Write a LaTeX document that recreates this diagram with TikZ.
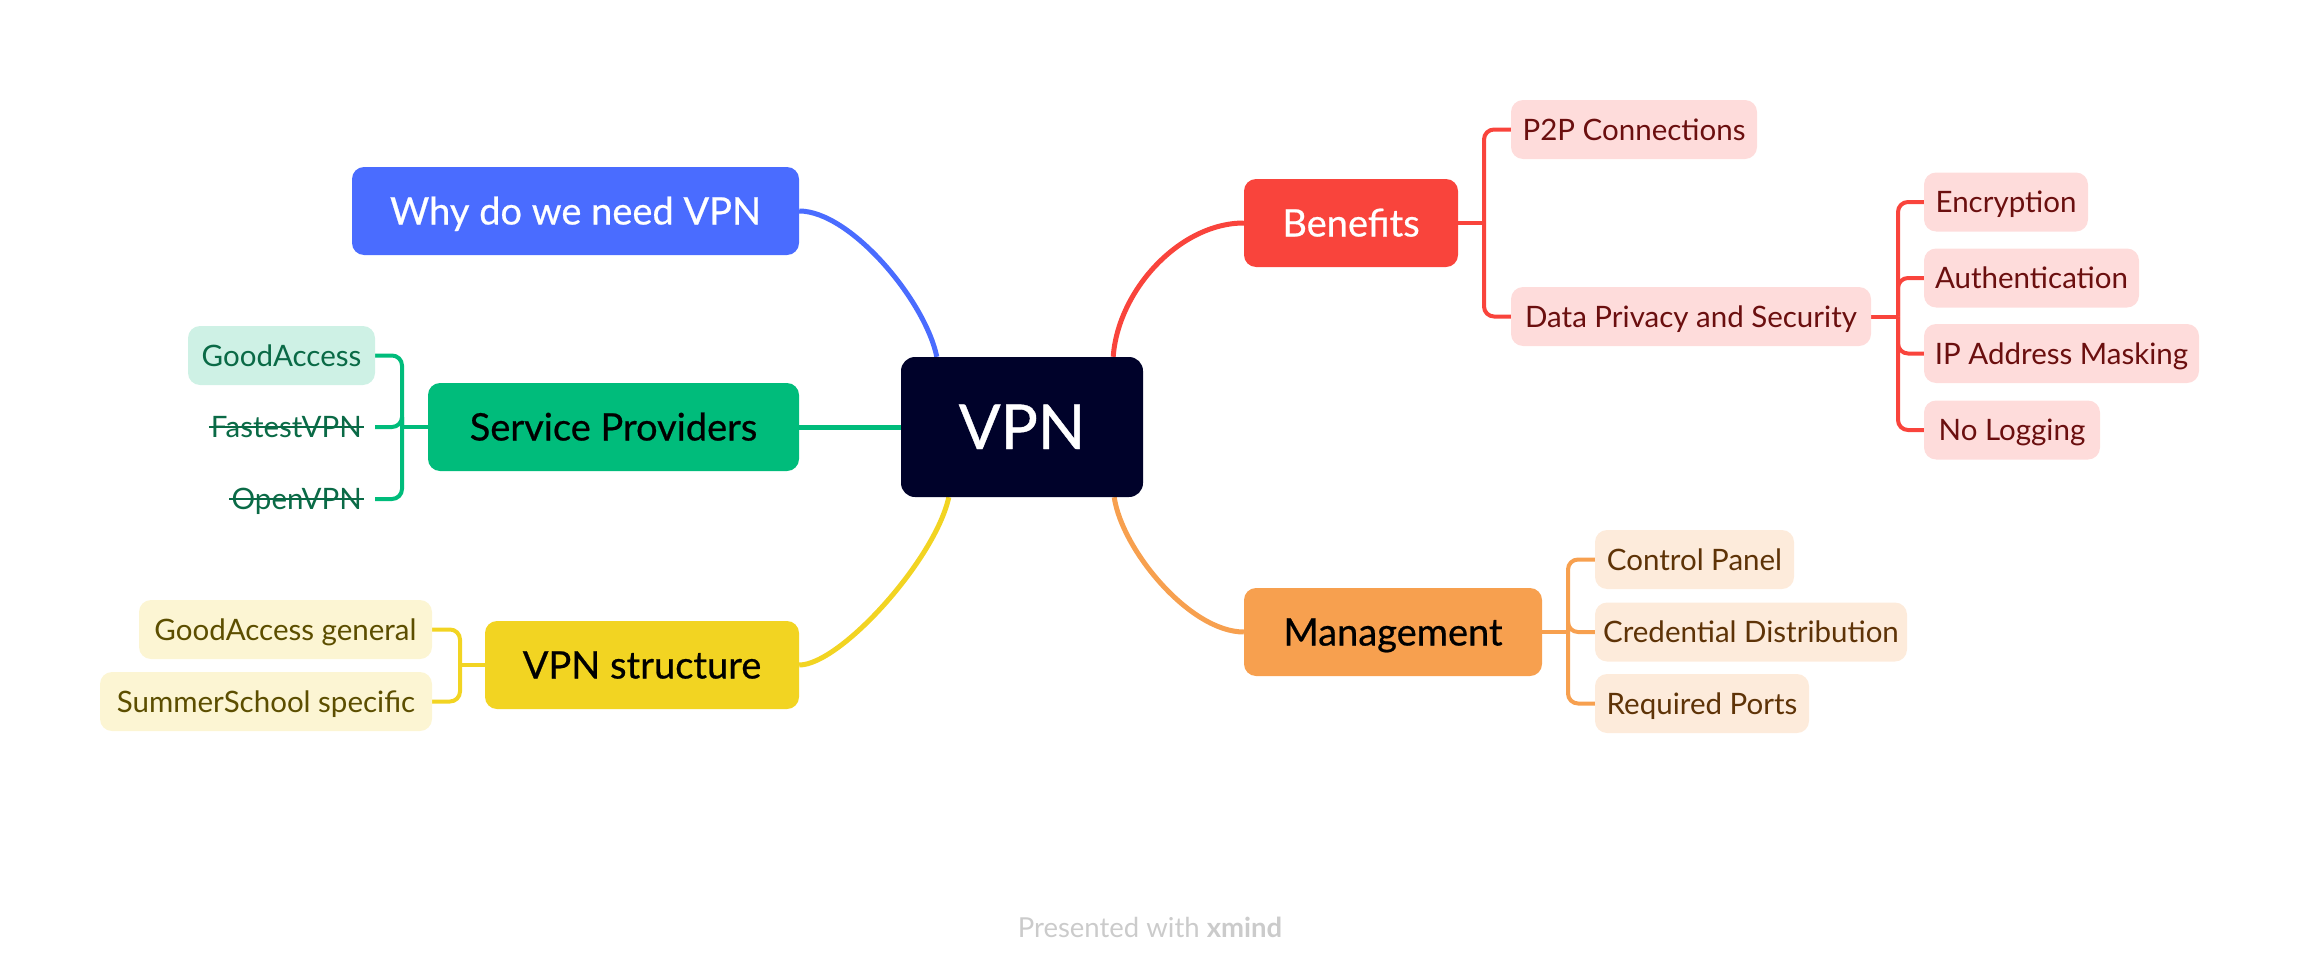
\documentclass[tikz,border=0pt]{standalone}
\usepackage{fontspec}
\setmainfont{Lato}
\newfontfamily\medfont[FakeBold=0.6]{Lato}
\usetikzlibrary{backgrounds}
\definecolor{cblue}{HTML}{4A6CFF}
\definecolor{cgreen}{HTML}{00BC7B}
\definecolor{cyellow}{HTML}{F2D422}
\definecolor{cred}{HTML}{F9443C}
\definecolor{corange}{HTML}{F7A04F}
\definecolor{ccentral}{HTML}{00022A}
\definecolor{lred}{HTML}{FEDCDB}
\definecolor{tred}{HTML}{6B0F0F}
\definecolor{lgreen}{HTML}{CEF1E5}
\definecolor{tgreen}{HTML}{0A6A46}
\definecolor{lyellow}{HTML}{FCF5D3}
\definecolor{tyellow}{HTML}{5C4E00}
\definecolor{lorange}{HTML}{FDEBDB}
\definecolor{torange}{HTML}{5E3307}
\definecolor{cgray}{HTML}{CBCBCB}
\tikzset{
  centraltopic/.style={fill=ccentral, text=white, rounded corners=14pt,
    minimum width=242pt, minimum height=140pt, inner sep=0pt,
    font=\medfont\fontsize{62}{72}\selectfont, text height=44pt, text depth=0pt},
  maintopic/.style={rounded corners=12pt, minimum height=88pt, inner sep=0pt,
    font=\medfont\fontsize{38}{44}\selectfont, text height=27pt, text depth=0pt},
  subtopic/.style={rounded corners=12pt, minimum height=59pt, inner sep=0pt,
    font=\fontsize{29.5}{35}\selectfont, text height=21pt, text depth=0pt},
  plainsub/.style={inner xsep=13pt, inner ysep=0pt, text=tgreen,
    font=\fontsize{29.5}{35}\selectfont, text height=21pt, text depth=0pt},
  strike/.style={line width=2.2pt, tgreen},
  mainline/.style={line width=5pt},
  branchline/.style={line width=4pt, rounded corners=10pt},
  footer/.style={text=cgray, font=\fontsize{27.5}{32}\selectfont, inner sep=0pt}
}
\begin{document}
\begin{tikzpicture}[x=1pt, y=-1pt]
\useasboundingbox (0,0) rectangle (2300,974);

% central
\node[centraltopic] (vpn) at (1022,427) {VPN};

% main topics
\node[maintopic, fill=cblue, text=white, minimum width=447pt] (why) at (575.5,211) {Why do we need VPN};
\node[maintopic, fill=cgreen, text=black, minimum width=371pt] (sp) at (613.5,427) {Service Providers};
\node[maintopic, fill=cyellow, text=black, minimum width=314pt] (vs) at (642,665) {VPN structure};
\node[maintopic, fill=cred, text=white, minimum width=214pt] (ben) at (1351,223) {Benefits};
\node[maintopic, fill=corange, text=black, minimum width=298pt] (mg) at (1393,632) {Management};

% benefits children
\node[subtopic, fill=lred, text=tred, minimum width=246pt] (p2p) at (1634,129.5) {P2P Connections};
\node[subtopic, fill=lred, text=tred, minimum width=360pt] (dps) at (1691,316.5) {Data Privacy and Security};
\node[subtopic, fill=lred, text=tred, minimum width=164pt] (enc) at (2006,202) {Encryption};
\node[subtopic, fill=lred, text=tred, minimum width=215pt] (auth) at (2031.5,278) {Authentication};
\node[subtopic, fill=lred, text=tred, minimum width=275pt] (ipm) at (2061.5,353.5) {IP Address Masking};
\node[subtopic, fill=lred, text=tred, minimum width=176pt] (nol) at (2012,430) {No Logging};

% management children
\node[subtopic, fill=lorange, text=torange, minimum width=199pt] (cp) at (1694.5,559.5) {Control Panel};
\node[subtopic, fill=lorange, text=torange, minimum width=312pt] (cd) at (1751,632) {Credential Distribution};
\node[subtopic, fill=lorange, text=torange, minimum width=214pt] (rp) at (1702,703.5) {Required Ports};

% service providers children
\node[subtopic, fill=lgreen, text=tgreen, minimum width=187pt] (ga) at (281.5,355.5) {GoodAccess};
\node[plainsub, anchor=east] (fv) at (375,427) {FastestVPN};
\node[plainsub, anchor=east] (ov) at (375,499) {OpenVPN};
\draw[strike] ([xshift=11pt]fv.west) -- ([xshift=-11pt]fv.east);
\draw[strike] ([xshift=11pt]ov.west) -- ([xshift=-11pt]ov.east);

% vpn structure children
\node[subtopic, fill=lyellow, text=tyellow, minimum width=293pt] (gag) at (285.5,629.5) {GoodAccess general};
\node[subtopic, fill=lyellow, text=tyellow, minimum width=332pt] (ssp) at (266,701.5) {SummerSchool specific};

% footer
\node[footer] (foot) at (1150,927) {Presented with \textbf{xmind}};

% junctions
\coordinate (jben) at (1484,223);
\coordinate (jdps) at (1898,316.5);
\coordinate (jmg) at (1568,632);
\coordinate (jsp) at (402,427);
\coordinate (jvs) at (460,665);

\begin{scope}[on background layer]
% main connectors
\draw[mainline, cblue] (why.east) .. controls (850,211) and (925,300) .. ([xshift=36pt]vpn.north west);
\draw[mainline, cred] (ben.west) .. controls (1180,223) and (1118,290) .. ([xshift=-30pt]vpn.north east);
\draw[mainline, cgreen] (vpn.west) -- (sp.east);
\draw[mainline, cyellow] (vs.east) .. controls (840,665) and (935,560) .. ([xshift=48pt]vpn.south west);
\draw[mainline, corange] (mg.west) .. controls (1190,632) and (1122,550) .. ([xshift=-29pt]vpn.south east);

% benefits branches
\draw[branchline, cred] (ben.east) -- (jben);
\draw[branchline, cred] (jben) |- (p2p.west);
\draw[branchline, cred] (jben) |- (dps.west);
\draw[branchline, cred] (dps.east) -- (jdps);
\draw[branchline, cred] (jdps) |- (enc.west);
\draw[branchline, cred] (jdps) |- (auth.west);
\draw[branchline, cred] (jdps) |- (ipm.west);
\draw[branchline, cred] (jdps) |- (nol.west);

% management branches
\draw[branchline, corange] (mg.east) -- (jmg);
\draw[branchline, corange] (jmg) |- (cp.west);
\draw[branchline, corange] (jmg) |- (cd.west);
\draw[branchline, corange] (jmg) |- (rp.west);

% service providers branches
\draw[branchline, cgreen] (sp.west) -- (jsp);
\draw[branchline, cgreen] (jsp) |- (ga.east);
\draw[branchline, cgreen] (jsp) |- (fv.east);
\draw[branchline, cgreen] (jsp) |- (ov.east);

% vpn structure branches
\draw[branchline, cyellow] (vs.west) -- (jvs);
\draw[branchline, cyellow] (jvs) |- (gag.east);
\draw[branchline, cyellow] (jvs) |- (ssp.east);
\end{scope}
\end{tikzpicture}
\end{document}
